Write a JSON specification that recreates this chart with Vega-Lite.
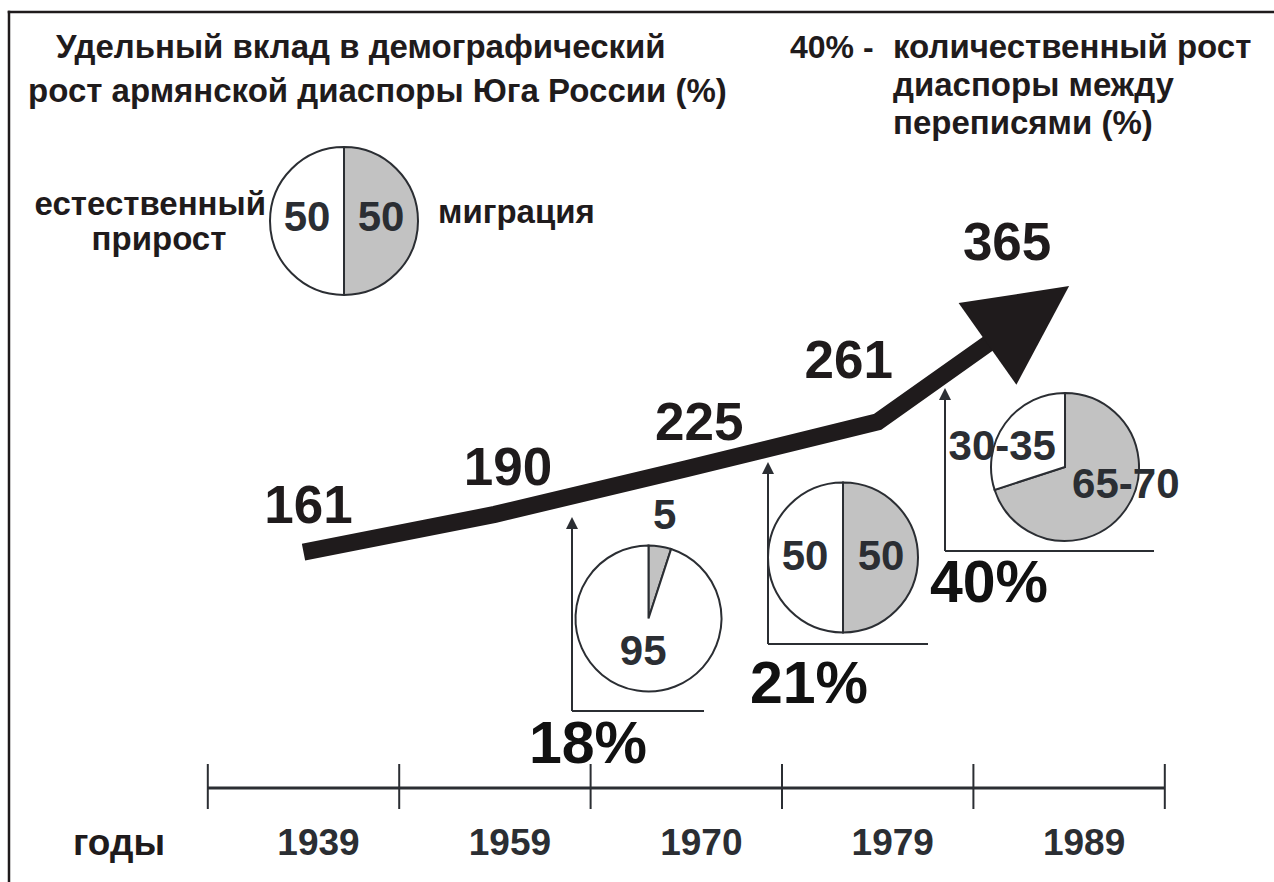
{
"$schema": "https://vega.github.io/schema/vega-lite/v6.json",
"width": 1274, "height": 882,
"autosize": {"type": "none"},
"padding": 0,
"background": "white",
"config": {"view": {"stroke": null}, "font": "Liberation Sans"},
"datasets": {
 "census": [
  {"year": 1939, "slot": 0, "pop": 161},
  {"year": 1959, "slot": 1, "pop": 190},
  {"year": 1970, "slot": 2, "pop": 225},
  {"year": 1979, "slot": 3, "pop": 261},
  {"year": 1989, "slot": 4, "pop": 365}
 ],
 "shares": [
  {"period": "легенда", "part": "миграция", "pct": 50, "label": "50"},
  {"period": "легенда", "part": "естественный прирост", "pct": 50, "label": "50"},
  {"period": "1959-1970", "part": "миграция", "pct": 5, "label": "5"},
  {"period": "1959-1970", "part": "естественный прирост", "pct": 95, "label": "95"},
  {"period": "1970-1979", "part": "миграция", "pct": 50, "label": "50"},
  {"period": "1970-1979", "part": "естественный прирост", "pct": 50, "label": "50"},
  {"period": "1979-1989", "part": "миграция", "pct": 70, "label": "65-70"},
  {"period": "1979-1989", "part": "естественный прирост", "pct": 30, "label": "30-35"}
 ],
 "growth": [
  {"period": "1959-1970", "growth": 18},
  {"period": "1970-1979", "growth": 21},
  {"period": "1979-1989", "growth": 40}
 ]
},
"layer": [
 {"data": {"values": [{}]}, "mark": {"type": "rule", "color": "#1f1b1c", "strokeWidth": 2.5, "strokeCap": "square"},
  "encoding": {"x": {"datum": -1.5387, "scale": {"domain": [-1.5857, 5.0705], "nice": false, "zero": false}, "axis": null},
   "y": {"datum": 575.1, "scale": {"domain": [-91.8, 584.3], "nice": false, "zero": false}, "axis": null}, "y2": {"datum": -91.8}}},
 {"data": {"values": [{}]}, "mark": {"type": "rule", "color": "#1f1b1c", "strokeWidth": 2.5, "strokeCap": "square"},
  "encoding": {"x": {"datum": -1.5387, "scale": {"domain": [-1.5857, 5.0705], "nice": false, "zero": false}, "axis": null}, "x2": {"datum": 5.0705},
   "y": {"datum": 575.1, "scale": {"domain": [-91.8, 584.3], "nice": false, "zero": false}, "axis": null}}},

 {"data": {"values": [{}]}, "mark": {"type": "text", "text": "Удельный вклад в демографический", "align": "left", "baseline": "middle", "fontSize": 33, "fontWeight": "bold", "color": "#1f1b1c"},
  "encoding": {"x": {"datum": -1.2931, "scale": {"domain": [-1.5857, 5.0705], "nice": false, "zero": false}, "axis": null},
   "y": {"datum": 547.5, "scale": {"domain": [-91.8, 584.3], "nice": false, "zero": false}, "axis": null}}},
 {"data": {"values": [{}]}, "mark": {"type": "text", "text": "рост армянской диаспоры Юга России (%)", "align": "left", "baseline": "middle", "fontSize": 33, "fontWeight": "bold", "color": "#1f1b1c"},
  "encoding": {"x": {"datum": -1.4394, "scale": {"domain": [-1.5857, 5.0705], "nice": false, "zero": false}, "axis": null},
   "y": {"datum": 513.78, "scale": {"domain": [-91.8, 584.3], "nice": false, "zero": false}, "axis": null}}},
 {"data": {"values": [{}]}, "mark": {"type": "text", "text": "40% -", "align": "left", "baseline": "middle", "fontSize": 32, "fontWeight": "bold", "color": "#1f1b1c"},
  "encoding": {"x": {"datum": 2.5418, "scale": {"domain": [-1.5857, 5.0705], "nice": false, "zero": false}, "axis": null},
   "y": {"datum": 547.5, "scale": {"domain": [-91.8, 584.3], "nice": false, "zero": false}, "axis": null}}},
 {"data": {"values": [{}]}, "mark": {"type": "text", "text": "количественный рост", "align": "left", "baseline": "middle", "fontSize": 33, "fontWeight": "bold", "color": "#1f1b1c"},
  "encoding": {"x": {"datum": 3.0799, "scale": {"domain": [-1.5857, 5.0705], "nice": false, "zero": false}, "axis": null},
   "y": {"datum": 547.5, "scale": {"domain": [-91.8, 584.3], "nice": false, "zero": false}, "axis": null}}},
 {"data": {"values": [{}]}, "mark": {"type": "text", "text": "диаспоры между", "align": "left", "baseline": "middle", "fontSize": 33, "fontWeight": "bold", "color": "#1f1b1c"},
  "encoding": {"x": {"datum": 3.0799, "scale": {"domain": [-1.5857, 5.0705], "nice": false, "zero": false}, "axis": null},
   "y": {"datum": 518.38, "scale": {"domain": [-91.8, 584.3], "nice": false, "zero": false}, "axis": null}}},
 {"data": {"values": [{}]}, "mark": {"type": "text", "text": "переписями (%)", "align": "left", "baseline": "middle", "fontSize": 33, "fontWeight": "bold", "color": "#1f1b1c"},
  "encoding": {"x": {"datum": 3.0799, "scale": {"domain": [-1.5857, 5.0705], "nice": false, "zero": false}, "axis": null},
   "y": {"datum": 489.25, "scale": {"domain": [-91.8, 584.3], "nice": false, "zero": false}, "axis": null}}},

 {"data": {"values": [{}]}, "mark": {"type": "text", "text": "естественный", "align": "right", "baseline": "middle", "fontSize": 33, "fontWeight": "bold", "color": "#1f1b1c"},
  "encoding": {"x": {"datum": -0.1959, "scale": {"domain": [-1.5857, 5.0705], "nice": false, "zero": false}, "axis": null},
   "y": {"datum": 427.16, "scale": {"domain": [-91.8, 584.3], "nice": false, "zero": false}, "axis": null}}},
 {"data": {"values": [{}]}, "mark": {"type": "text", "text": "прирост", "align": "center", "baseline": "middle", "fontSize": 33, "fontWeight": "bold", "color": "#1f1b1c"},
  "encoding": {"x": {"datum": -0.755, "scale": {"domain": [-1.5857, 5.0705], "nice": false, "zero": false}, "axis": null},
   "y": {"datum": 400.33, "scale": {"domain": [-91.8, 584.3], "nice": false, "zero": false}, "axis": null}}},
 {"data": {"values": [{}]}, "mark": {"type": "text", "text": "миграция", "align": "left", "baseline": "middle", "fontSize": 33, "fontWeight": "bold", "color": "#1f1b1c"},
  "encoding": {"x": {"datum": 0.7027, "scale": {"domain": [-1.5857, 5.0705], "nice": false, "zero": false}, "axis": null},
   "y": {"datum": 421.03, "scale": {"domain": [-91.8, 584.3], "nice": false, "zero": false}, "axis": null}}},

 {"data": {"name": "shares"}, "transform": [{"filter": "datum.period == 'легенда'"}],
  "mark": {"type": "arc", "radius": 74, "stroke": "#2b2e33", "strokeWidth": 2},
  "encoding": {"x": {"datum": 0.2116, "scale": {"domain": [-1.5857, 5.0705], "nice": false, "zero": false}, "axis": null},
   "y": {"datum": 414.89, "scale": {"domain": [-91.8, 584.3], "nice": false, "zero": false}, "axis": null},
   "theta": {"field": "pct", "type": "quantitative", "stack": true},
   "color": {"field": "part", "type": "nominal", "scale": {"domain": ["миграция", "естественный прирост"], "range": ["#c2c2c2", "#ffffff"]}, "legend": null},
   "order": {"field": "part", "sort": "descending"}}},
 {"data": {"name": "shares"}, "transform": [{"filter": "datum.period == 'легенда'"}],
  "mark": {"type": "text", "radius": 37, "dy": -3, "fontSize": 42, "fontWeight": "bold", "color": "#2b2e33", "align": "center", "baseline": "middle"},
  "encoding": {"x": {"datum": 0.2116, "scale": {"domain": [-1.5857, 5.0705], "nice": false, "zero": false}, "axis": null},
   "y": {"datum": 414.89, "scale": {"domain": [-91.8, 584.3], "nice": false, "zero": false}, "axis": null},
   "theta": {"field": "pct", "type": "quantitative", "stack": true},
   "detail": {"field": "part", "type": "nominal"},
   "order": {"field": "part", "sort": "descending"},
   "text": {"field": "label", "type": "nominal"}}},

 {"data": {"name": "census"}, "mark": {"type": "line", "color": "#1f1b1c", "strokeWidth": 17, "strokeDash": [800, 400], "strokeJoin": "miter", "strokeCap": "butt"},
  "encoding": {"x": {"field": "slot", "type": "quantitative", "scale": {"domain": [-1.5857, 5.0705], "nice": false, "zero": false}, "axis": null},
   "y": {"field": "pop", "type": "quantitative", "scale": {"domain": [-91.8, 584.3], "nice": false, "zero": false}, "axis": null}}},
 {"data": {"name": "census"}, "transform": [{"filter": "datum.year == 1989"}],
  "mark": {"type": "point", "shape": "M0,0 L-1,2 L1,2 Z", "size": 10000, "angle": 54.7, "filled": true, "opacity": 1, "color": "#1f1b1c", "strokeWidth": 0},
  "encoding": {"x": {"field": "slot", "type": "quantitative", "scale": {"domain": [-1.5857, 5.0705], "nice": false, "zero": false}, "axis": null},
   "y": {"field": "pop", "type": "quantitative", "scale": {"domain": [-91.8, 584.3], "nice": false, "zero": false}, "axis": null}}},
 {"data": {"name": "census"},
  "mark": {"type": "text", "fontSize": 53, "fontWeight": "bold", "color": "#1f1b1c", "align": "center", "baseline": "middle",
   "dx": {"expr": "datum.year == 1979 ? -29 : datum.year == 1989 ? -62 : datum.year == 1939 ? 5 : 13"},
   "dy": {"expr": "datum.year == 1979 ? -60 : datum.year == 1989 ? -42 : -45"}},
  "encoding": {"x": {"field": "slot", "type": "quantitative", "scale": {"domain": [-1.5857, 5.0705], "nice": false, "zero": false}, "axis": null},
   "y": {"field": "pop", "type": "quantitative", "scale": {"domain": [-91.8, 584.3], "nice": false, "zero": false}, "axis": null},
   "text": {"field": "pop", "type": "nominal"}}},

 {"data": {"name": "shares"}, "transform": [{"filter": "datum.period == '1959-1970'"}],
  "mark": {"type": "arc", "radius": 73, "stroke": "#2b2e33", "strokeWidth": 2},
  "encoding": {"x": {"datum": 1.8025, "scale": {"domain": [-1.5857, 5.0705], "nice": false, "zero": false}, "axis": null},
   "y": {"datum": 110.19, "scale": {"domain": [-91.8, 584.3], "nice": false, "zero": false}, "axis": null},
   "theta": {"field": "pct", "type": "quantitative", "stack": true},
   "color": {"field": "part", "type": "nominal", "scale": {"domain": ["миграция", "естественный прирост"], "range": ["#c2c2c2", "#ffffff"]}, "legend": null},
   "order": {"field": "part", "sort": "descending"}}},
 {"data": {"name": "shares"}, "transform": [{"filter": "datum.period == '1959-1970'"}],
  "mark": {"type": "text", "radius": {"expr": "datum.pct < 10 ? 104 : 34"}, "fontSize": 42, "fontWeight": "bold", "color": "#2b2e33", "align": "center", "baseline": "middle"},
  "encoding": {"x": {"datum": 1.8025, "scale": {"domain": [-1.5857, 5.0705], "nice": false, "zero": false}, "axis": null},
   "y": {"datum": 110.19, "scale": {"domain": [-91.8, 584.3], "nice": false, "zero": false}, "axis": null},
   "theta": {"field": "pct", "type": "quantitative", "stack": true},
   "detail": {"field": "part", "type": "nominal"},
   "order": {"field": "part", "sort": "descending"},
   "text": {"field": "label", "type": "nominal"}}},

 {"data": {"name": "shares"}, "transform": [{"filter": "datum.period == '1970-1979'"}],
  "mark": {"type": "arc", "radius": 75, "stroke": "#2b2e33", "strokeWidth": 2},
  "encoding": {"x": {"datum": 2.8187, "scale": {"domain": [-1.5857, 5.0705], "nice": false, "zero": false}, "axis": null},
   "y": {"datum": 156.95, "scale": {"domain": [-91.8, 584.3], "nice": false, "zero": false}, "axis": null},
   "theta": {"field": "pct", "type": "quantitative", "stack": true},
   "color": {"field": "part", "type": "nominal", "scale": {"domain": ["миграция", "естественный прирост"], "range": ["#c2c2c2", "#ffffff"]}, "legend": null},
   "order": {"field": "part", "sort": "descending"}}},
 {"data": {"name": "shares"}, "transform": [{"filter": "datum.period == '1970-1979'"}],
  "mark": {"type": "text", "radius": 38, "fontSize": 42, "fontWeight": "bold", "color": "#2b2e33", "align": "center", "baseline": "middle"},
  "encoding": {"x": {"datum": 2.8187, "scale": {"domain": [-1.5857, 5.0705], "nice": false, "zero": false}, "axis": null},
   "y": {"datum": 156.95, "scale": {"domain": [-91.8, 584.3], "nice": false, "zero": false}, "axis": null},
   "theta": {"field": "pct", "type": "quantitative", "stack": true},
   "detail": {"field": "part", "type": "nominal"},
   "order": {"field": "part", "sort": "descending"},
   "text": {"field": "label", "type": "nominal"}}},

 {"data": {"name": "shares"}, "transform": [{"filter": "datum.period == '1979-1989'"}],
  "mark": {"type": "arc", "radius": 74, "stroke": "#2b2e33", "strokeWidth": 2},
  "encoding": {"x": {"datum": 3.9786, "scale": {"domain": [-1.5857, 5.0705], "nice": false, "zero": false}, "axis": null},
   "y": {"datum": 226.32, "scale": {"domain": [-91.8, 584.3], "nice": false, "zero": false}, "axis": null},
   "theta": {"field": "pct", "type": "quantitative", "stack": true},
   "color": {"field": "part", "type": "nominal", "scale": {"domain": ["миграция", "естественный прирост"], "range": ["#c2c2c2", "#ffffff"]}, "legend": null},
   "order": {"field": "part", "sort": "descending"}}},
 {"data": {"name": "shares"}, "transform": [{"filter": "datum.period == '1979-1989'"}],
  "mark": {"type": "text", "radius": 64, "dx": {"expr": "datum.pct > 50 ? 9 : -11"}, "dy": {"expr": "datum.pct > 50 ? -20 : 18"}, "fontSize": 42, "fontWeight": "bold", "color": "#2b2e33", "align": "center", "baseline": "middle"},
  "encoding": {"x": {"datum": 3.9786, "scale": {"domain": [-1.5857, 5.0705], "nice": false, "zero": false}, "axis": null},
   "y": {"datum": 226.32, "scale": {"domain": [-91.8, 584.3], "nice": false, "zero": false}, "axis": null},
   "theta": {"field": "pct", "type": "quantitative", "stack": true},
   "detail": {"field": "part", "type": "nominal"},
   "order": {"field": "part", "sort": "descending"},
   "text": {"field": "label", "type": "nominal"}}},

 {"data": {"values": [{}]}, "mark": {"type": "rule", "color": "#2b2e33", "strokeWidth": 2},
  "encoding": {"x": {"datum": 1.4028, "scale": {"domain": [-1.5857, 5.0705], "nice": false, "zero": false}, "axis": null},
   "y": {"datum": 39.28, "scale": {"domain": [-91.8, 584.3], "nice": false, "zero": false}, "axis": null}, "y2": {"datum": 182.6}}},
 {"data": {"values": [{}]}, "mark": {"type": "rule", "color": "#2b2e33", "strokeWidth": 2},
  "encoding": {"x": {"datum": 1.4028, "scale": {"domain": [-1.5857, 5.0705], "nice": false, "zero": false}, "axis": null}, "x2": {"datum": 2.0925},
   "y": {"datum": 39.28, "scale": {"domain": [-91.8, 584.3], "nice": false, "zero": false}, "axis": null}}},
 {"data": {"values": [{}]}, "mark": {"type": "point", "shape": "M0,0 L-1,2 L1,2 Z", "size": 144, "filled": true, "opacity": 1, "color": "#2b2e33", "strokeWidth": 0},
  "encoding": {"x": {"datum": 1.4028, "scale": {"domain": [-1.5857, 5.0705], "nice": false, "zero": false}, "axis": null},
   "y": {"datum": 187.99, "scale": {"domain": [-91.8, 584.3], "nice": false, "zero": false}, "axis": null}}},

 {"data": {"values": [{}]}, "mark": {"type": "rule", "color": "#2b2e33", "strokeWidth": 2},
  "encoding": {"x": {"datum": 2.4268, "scale": {"domain": [-1.5857, 5.0705], "nice": false, "zero": false}, "axis": null},
   "y": {"datum": 90.64, "scale": {"domain": [-91.8, 584.3], "nice": false, "zero": false}, "axis": null}, "y2": {"datum": 224.0}}},
 {"data": {"values": [{}]}, "mark": {"type": "rule", "color": "#2b2e33", "strokeWidth": 2},
  "encoding": {"x": {"datum": 2.4268, "scale": {"domain": [-1.5857, 5.0705], "nice": false, "zero": false}, "axis": null}, "x2": {"datum": 3.2628},
   "y": {"datum": 90.64, "scale": {"domain": [-91.8, 584.3], "nice": false, "zero": false}, "axis": null}}},
 {"data": {"values": [{}]}, "mark": {"type": "point", "shape": "M0,0 L-1,2 L1,2 Z", "size": 144, "filled": true, "opacity": 1, "color": "#2b2e33", "strokeWidth": 0},
  "encoding": {"x": {"datum": 2.4268, "scale": {"domain": [-1.5857, 5.0705], "nice": false, "zero": false}, "axis": null},
   "y": {"datum": 230.15, "scale": {"domain": [-91.8, 584.3], "nice": false, "zero": false}, "axis": null}}},

 {"data": {"values": [{}]}, "mark": {"type": "rule", "color": "#2b2e33", "strokeWidth": 2},
  "encoding": {"x": {"datum": 3.3516, "scale": {"domain": [-1.5857, 5.0705], "nice": false, "zero": false}, "axis": null},
   "y": {"datum": 161.93, "scale": {"domain": [-91.8, 584.3], "nice": false, "zero": false}, "axis": null}, "y2": {"datum": 280.75}}},
 {"data": {"values": [{}]}, "mark": {"type": "rule", "color": "#2b2e33", "strokeWidth": 2},
  "encoding": {"x": {"datum": 3.3516, "scale": {"domain": [-1.5857, 5.0705], "nice": false, "zero": false}, "axis": null}, "x2": {"datum": 4.4436},
   "y": {"datum": 161.93, "scale": {"domain": [-91.8, 584.3], "nice": false, "zero": false}, "axis": null}}},
 {"data": {"values": [{}]}, "mark": {"type": "point", "shape": "M0,0 L-1,2 L1,2 Z", "size": 144, "filled": true, "opacity": 1, "color": "#2b2e33", "strokeWidth": 0},
  "encoding": {"x": {"datum": 3.3516, "scale": {"domain": [-1.5857, 5.0705], "nice": false, "zero": false}, "axis": null},
   "y": {"datum": 286.88, "scale": {"domain": [-91.8, 584.3], "nice": false, "zero": false}, "axis": null}}},

 {"data": {"name": "growth"}, "transform": [{"filter": "datum.period == '1959-1970'"}],
  "mark": {"type": "text", "text": {"expr": "datum.growth + '%'"}, "fontSize": 59, "fontWeight": "bold", "color": "#111111", "align": "center", "baseline": "middle"},
  "encoding": {"x": {"datum": 1.4864, "scale": {"domain": [-1.5857, 5.0705], "nice": false, "zero": false}, "axis": null},
   "y": {"datum": 13.5, "scale": {"domain": [-91.8, 584.3], "nice": false, "zero": false}, "axis": null}}},
 {"data": {"name": "growth"}, "transform": [{"filter": "datum.period == '1970-1979'"}],
  "mark": {"type": "text", "text": {"expr": "datum.growth + '%'"}, "fontSize": 59, "fontWeight": "bold", "color": "#111111", "align": "center", "baseline": "middle"},
  "encoding": {"x": {"datum": 2.6411, "scale": {"domain": [-1.5857, 5.0705], "nice": false, "zero": false}, "axis": null},
   "y": {"datum": 59.21, "scale": {"domain": [-91.8, 584.3], "nice": false, "zero": false}, "axis": null}}},
 {"data": {"name": "growth"}, "transform": [{"filter": "datum.period == '1979-1989'"}],
  "mark": {"type": "text", "text": {"expr": "datum.growth + '%'"}, "fontSize": 59, "fontWeight": "bold", "color": "#111111", "align": "center", "baseline": "middle"},
  "encoding": {"x": {"datum": 3.5815, "scale": {"domain": [-1.5857, 5.0705], "nice": false, "zero": false}, "axis": null},
   "y": {"datum": 137.0, "scale": {"domain": [-91.8, 584.3], "nice": false, "zero": false}, "axis": null}}},

 {"data": {"values": [{}]}, "mark": {"type": "rule", "color": "#2b2e33", "strokeWidth": 3},
  "encoding": {"x": {"datum": -0.5, "scale": {"domain": [-1.5857, 5.0705], "nice": false, "zero": false}, "axis": null}, "x2": {"datum": 4.5},
   "y": {"datum": -19.74, "scale": {"domain": [-91.8, 584.3], "nice": false, "zero": false}, "axis": null}}},
 {"data": {"name": "census"}, "mark": {"type": "rule", "color": "#2b2e33", "strokeWidth": 2, "xOffset": -95.7},
  "encoding": {"x": {"field": "slot", "type": "quantitative", "scale": {"domain": [-1.5857, 5.0705], "nice": false, "zero": false}, "axis": null},
   "y": {"datum": -1.35, "scale": {"domain": [-91.8, 584.3], "nice": false, "zero": false}, "axis": null}, "y2": {"datum": -35.84}}},
 {"data": {"values": [{}]}, "mark": {"type": "rule", "color": "#2b2e33", "strokeWidth": 2},
  "encoding": {"x": {"datum": 4.5, "scale": {"domain": [-1.5857, 5.0705], "nice": false, "zero": false}, "axis": null},
   "y": {"datum": -1.35, "scale": {"domain": [-91.8, 584.3], "nice": false, "zero": false}, "axis": null}, "y2": {"datum": -35.84}}},
 {"data": {"name": "census"}, "mark": {"type": "text", "fontSize": 37, "fontWeight": "bold", "color": "#2b2e33", "align": "center", "baseline": "middle", "dx": 15},
  "encoding": {"x": {"field": "slot", "type": "quantitative", "scale": {"domain": [-1.5857, 5.0705], "nice": false, "zero": false}, "axis": null},
   "y": {"datum": -62.5, "scale": {"domain": [-91.8, 584.3], "nice": false, "zero": false}, "axis": null},
   "text": {"field": "year", "type": "nominal"}}},
 {"data": {"values": [{}]}, "mark": {"type": "text", "text": "годы", "fontSize": 37, "fontWeight": "bold", "color": "#1f1b1c", "align": "center", "baseline": "middle"},
  "encoding": {"x": {"datum": -0.964, "scale": {"domain": [-1.5857, 5.0705], "nice": false, "zero": false}, "axis": null},
   "y": {"datum": -62.5, "scale": {"domain": [-91.8, 584.3], "nice": false, "zero": false}, "axis": null}}}
]
}
